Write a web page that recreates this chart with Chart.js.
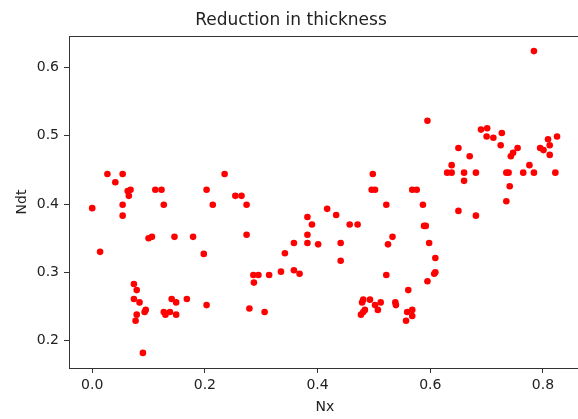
<!DOCTYPE html>
<html>
<head>
<meta charset="utf-8">
<script src="https://cdn.jsdelivr.net/npm/chart.js@4.4.1/dist/chart.umd.min.js"></script>
<style>
  html, body { margin: 0; padding: 0; background: #fff; overflow: hidden; }
  canvas { display: block; }
</style>
</head>
<body>
<canvas id="scatterChart" width="584" height="419"></canvas>
<script>
// Nx values
const nxValues = [
  0.000, 0.014, 0.027, 0.041, 0.054, 0.054, 0.054, 0.063, 0.068, 0.065,
  0.074, 0.079, 0.074, 0.084, 0.079, 0.077, 0.090, 0.095, 0.093, 0.100,
  0.106, 0.112, 0.123, 0.127, 0.127, 0.130, 0.138, 0.141, 0.146, 0.149,
  0.149, 0.168, 0.179, 0.198, 0.203, 0.203, 0.214, 0.235, 0.254, 0.265,
  0.274, 0.274, 0.279, 0.286, 0.295, 0.287, 0.306, 0.314, 0.335, 0.342,
  0.358, 0.358, 0.368, 0.382, 0.382, 0.382, 0.390, 0.401, 0.417, 0.433,
  0.441, 0.441, 0.457, 0.471, 0.477, 0.481, 0.484, 0.479, 0.481, 0.493,
  0.498, 0.496, 0.502, 0.502, 0.507, 0.512, 0.522, 0.522, 0.525, 0.533,
  0.538, 0.539, 0.557, 0.559, 0.568, 0.568, 0.561, 0.568, 0.576, 0.587,
  0.589, 0.592, 0.595, 0.595, 0.598, 0.609, 0.609, 0.607, 0.630, 0.638,
  0.638, 0.650, 0.650, 0.660, 0.660, 0.670, 0.681, 0.681, 0.690, 0.701,
  0.700, 0.712, 0.725, 0.727, 0.735, 0.739, 0.735, 0.741, 0.743, 0.747,
  0.755, 0.765, 0.776, 0.784, 0.784, 0.795, 0.801, 0.809, 0.812, 0.812,
  0.822, 0.825
];
// Ndt values, same order
const ndtValues = [
  0.394, 0.330, 0.444, 0.432, 0.444, 0.399, 0.383, 0.419, 0.421, 0.412,
  0.283, 0.274, 0.261, 0.256, 0.238, 0.229, 0.182, 0.245, 0.242, 0.350,
  0.352, 0.421, 0.421, 0.399, 0.242, 0.238, 0.242, 0.261, 0.352, 0.256,
  0.238, 0.261, 0.352, 0.327, 0.421, 0.252, 0.399, 0.444, 0.412, 0.412,
  0.399, 0.355, 0.247, 0.296, 0.296, 0.285, 0.242, 0.296, 0.301, 0.328,
  0.343, 0.303, 0.298, 0.381, 0.355, 0.343, 0.370, 0.341, 0.393, 0.384,
  0.343, 0.317, 0.370, 0.370, 0.238, 0.242, 0.245, 0.256, 0.260, 0.260,
  0.444, 0.421, 0.421, 0.252, 0.245, 0.256, 0.399, 0.296, 0.341, 0.352,
  0.256, 0.252, 0.229, 0.242, 0.245, 0.236, 0.274, 0.421, 0.421, 0.399,
  0.368, 0.368, 0.522, 0.287, 0.343, 0.321, 0.300, 0.298, 0.446, 0.446,
  0.457, 0.482, 0.390, 0.446, 0.434, 0.470, 0.446, 0.383, 0.509, 0.511,
  0.499, 0.497, 0.486, 0.504, 0.446, 0.446, 0.404, 0.426, 0.470, 0.475,
  0.482, 0.446, 0.457, 0.624, 0.446, 0.482, 0.479, 0.495, 0.486, 0.472,
  0.446, 0.499
];
const xTicks = [0.0, 0.2, 0.4, 0.6, 0.8];
const yTicks = [0.2, 0.3, 0.4, 0.5, 0.6];

const points = nxValues.map(function (x, i) {
  return { x: x, y: ndtValues[i] };
});

// draw the box around the plot like matplotlib spines
const framePlugin = {
  id: 'frame',
  afterDraw(chart) {
    const a = chart.chartArea;
    const c = chart.ctx;
    c.save();
    c.strokeStyle = '#333';
    c.lineWidth = 1;
    c.strokeRect(a.left + 0.5, a.top + 0.5, a.right - a.left, a.bottom - a.top);
    c.restore();
  }
};

const textColor = '#222';
const tickFont = { family: 'DejaVu Sans', size: 14 };

new Chart(document.getElementById('scatterChart').getContext('2d'), {
  type: 'scatter',
  data: {
    datasets: [{
      data: points,
      backgroundColor: '#ff0000',
      borderWidth: 0,
      pointRadius: 3.3,
      pointHoverRadius: 3.3
    }]
  },
  options: {
    responsive: false,
    animation: false,
    devicePixelRatio: 1,
    layout: { padding: { left: 0, right: 2, top: 0, bottom: 0 } },
    plugins: {
      legend: { display: false },
      tooltip: { enabled: false },
      title: {
        display: true,
        text: 'Reduction in thickness',
        color: textColor,
        font: { family: 'DejaVu Sans', size: 17, weight: 'normal' },
        padding: { top: 10, bottom: 5.6 }
      }
    },
    scales: {
      x: {
        type: 'linear',
        min: -0.0412,
        max: 0.867,
        afterBuildTicks: function (scale) {
          scale.ticks = xTicks.map(function (v) { return { value: v }; });
        },
        afterFit: function (scale) { scale.height = 51; },
        border: { display: false },
        grid: { drawOnChartArea: false, drawTicks: true, tickLength: 5, color: '#333' },
        ticks: {
          color: textColor,
          font: tickFont,
          padding: 4,
          maxRotation: 0,
          callback: function (v) { return v.toFixed(1); }
        },
        title: {
          display: true,
          text: 'Nx',
          color: textColor,
          font: tickFont,
          padding: { top: 0, bottom: 3.6 }
        }
      },
      y: {
        type: 'linear',
        min: 0.1599,
        max: 0.6461,
        afterBuildTicks: function (scale) {
          scale.ticks = yTicks.map(function (v) { return { value: v }; });
        },
        afterFit: function (scale) { scale.width = 69; },
        border: { display: false },
        grid: { drawOnChartArea: false, drawTicks: true, tickLength: 5, color: '#333' },
        ticks: {
          color: textColor,
          font: tickFont,
          padding: 5,
          callback: function (v) { return v.toFixed(1); }
        },
        title: {
          display: true,
          text: 'Ndt',
          color: textColor,
          font: tickFont,
          padding: { top: 13.6, bottom: 0 }
        }
      }
    }
  },
  plugins: [framePlugin]
});
</script>
</body>
</html>
